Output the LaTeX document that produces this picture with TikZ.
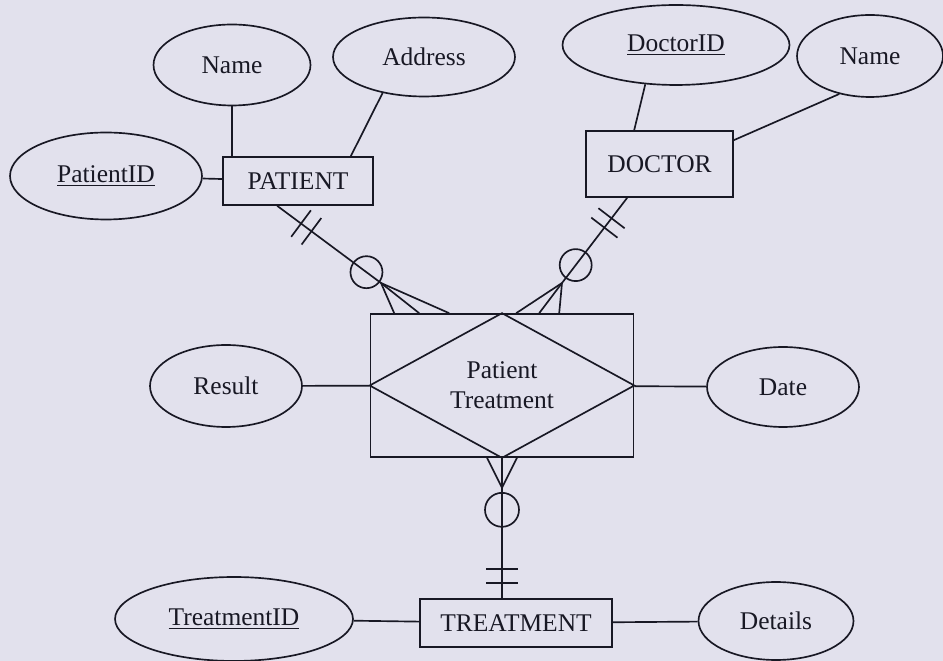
\documentclass[tikz,border=0pt]{standalone}
\usepackage{fontspec}
\setmainfont{Liberation Serif}
\usetikzlibrary{shapes.geometric,calc}

\definecolor{paper}{RGB}{226,225,237}
\definecolor{ink}{RGB}{24,24,36}
\newcommand{\erfont}{\fontsize{14.5}{17}\selectfont}

\begin{document}
\begin{tikzpicture}[x=0.02cm, y=-0.02cm, line width=0.95pt, color=ink,
		attr/.style={ellipse, draw, inner sep=0pt, font=\erfont},
		entity/.style={rectangle, draw, inner sep=0pt, font=\erfont}]

	% Paper
	\fill[paper] (0,0) rectangle (943,661);
	\useasboundingbox (0,0) rectangle (943,661);

	% Entities
	\node[entity, minimum width=3cm, minimum height=0.96cm] (pat) at (298,181) {PATIENT};
	\node[entity, minimum width=2.94cm, minimum height=1.32cm] (doc) at (659.5,164) {DOCTOR};
	\node[entity, minimum width=3.84cm, minimum height=0.96cm] (trt) at (516,623) {TREATMENT};

	% Associative entity
	\node[entity, minimum width=5.26cm, minimum height=2.86cm, align=center] (rel) at (502,385.5) {Patient\\Treatment};
	\draw (rel.north) -- (rel.east) -- (rel.south) -- (rel.west) -- cycle;

	% Attributes
	\node[attr, minimum width=3.14cm, minimum height=1.62cm] (pname) at (232,65) {Name};
	\node[attr, minimum width=3.64cm, minimum height=1.58cm] (paddr) at (424,57) {Address};
	\node[attr, minimum width=3.84cm, minimum height=1.74cm] (pid) at (106,176) {\underline{PatientID}};
	\node[attr, minimum width=4.54cm, minimum height=1.6cm] (did) at (676,45) {\underline{DoctorID}};
	\node[attr, minimum width=2.92cm, minimum height=1.64cm] (dname) at (870,56) {Name};
	\node[attr, minimum width=3.04cm, minimum height=1.64cm] (res) at (226,386) {Result};
	\node[attr, minimum width=3.04cm, minimum height=1.6cm] (date) at (783,387) {Date};
	\node[attr, minimum width=4.76cm, minimum height=1.68cm] (tid) at (234,619) {\underline{TreatmentID}};
	\node[attr, minimum width=3.1cm, minimum height=1.56cm] (det) at (776,621) {Details};

	% Attribute links
	\draw (pname.south) -- (pname.south |- pat.north);
	\draw (paddr.221) -- ($(pat.north east)+(-23,0)$);
	\draw (pid) -- (pat);
	\draw (did.232) -- ($(doc.north west)+(49,0)$);
	\draw (dname.231) -- ($(doc.north east)+(0,10)$);
	\draw (res) -- (rel);
	\draw (rel) -- (date);
	\draw (tid) -- (trt);
	\draw (trt) -- (det);

	% PATIENT side
	\coordinate (pS) at ($(pat.south west)+(55,0)$);
	\coordinate (pF) at (381,283);
	\draw (pS) -- (pF) -- ($(rel.north west)+(49.5,0)$);
	\draw (pF) -- ($(rel.north west)+(24.5,0)$);
	\draw (pF) -- ($(rel.north west)+(79.5,0)$);
	\foreach \t in {0.23,0.33}
		\draw ($(pS)!\t!(pF)!0.33cm!90:(pF)$) -- ($(pS)!\t!(pF)!0.33cm!-90:(pF)$);
	\draw ($(pS)!0.86!(pF)$) circle[radius=0.32cm];

	% DOCTOR side
	\coordinate (dS) at ($(doc.south west)+(42,0)$);
	\coordinate (dF) at (562,283);
	\draw (dS) -- (dF) -- ($(rel.north west)+(169.5,0)$);
	\draw (dF) -- ($(rel.north west)+(146.5,0)$);
	\draw (dF) -- ($(rel.north west)+(189.5,0)$);
	\foreach \t in {0.24,0.35}
		\draw ($(dS)!\t!(dF)!0.33cm!90:(dF)$) -- ($(dS)!\t!(dF)!0.33cm!-90:(dF)$);
	\draw ($(dS)!0.79!(dF)$) circle[radius=0.32cm];

	% TREATMENT side
	\coordinate (tF) at ($(rel.south)+(0,30)$);
	\draw (rel.south) -- (rel.south |- trt.north);
	\draw ($(rel.south)+(-15,0)$) -- (tF) -- ($(rel.south)+(15,0)$);
	\draw ($(rel.south)+(0,52)$) circle[radius=0.34cm];
	\foreach \y in {111,125}
		\draw ($(rel.south)+(-16,\y)$) -- ($(rel.south)+(16,\y)$);
\end{tikzpicture}
\end{document}
